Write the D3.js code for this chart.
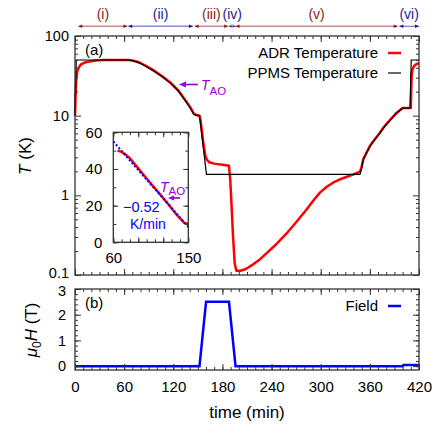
<!DOCTYPE html>
<html>
<head>
<meta charset="utf-8">
<script src="https://cdn.jsdelivr.net/npm/d3@7/dist/d3.min.js"></script>
<style>
  body { margin: 0; background: #fff; }
  svg { font-family: "Liberation Sans", Arial, sans-serif; }
</style>
</head>
<body>
<div id="chart"></div>
<script>
// ADR temperature (red): time in min, T in K
const adrTime = [0, 0.7, 1.5, 2.5, 4, 6, 8, 12, 18, 25, 35, 65, 70, 75, 80, 86, 96, 106, 116, 126, 136, 141, 145, 148, 152,
  153.5, 155, 157, 159, 161, 164, 170, 180, 188, 189.5, 191, 193, 195, 197, 202, 207, 212, 218, 226, 234, 246, 258,
  270, 283, 291, 299, 307, 315, 323, 332, 340, 348, 350, 352, 356, 360, 366, 372, 378, 385, 392, 400, 410, 411, 412,
  414, 417, 420]
const adrTemp = [10, 18, 28, 35, 39, 42.5, 44.5, 46.5, 48, 49.2, 49.8, 50, 49.3, 47.8, 45.8, 42.5, 37, 31.5, 26.3, 20.8, 15, 12.6, 10.6, 10.2, 10,
  8.5, 6.3, 4.3, 3.2, 2.8, 2.6, 2.5, 2.42, 2.35, 1.6, 0.8, 0.3, 0.14, 0.113, 0.113, 0.117, 0.125, 0.137, 0.158, 0.188, 0.245, 0.33,
  0.46, 0.67, 0.86, 1.08, 1.27, 1.44, 1.58, 1.71, 1.83, 1.98, 2.3, 2.85, 3.45, 4.15, 5.05, 6.05, 7.4, 8.9, 10.7, 12.5, 12.5, 32, 38,
  42, 44.5, 45.5]

// PPMS temperature (black)
const ppmsTime = [0, 1.5, 65, 70, 75, 80, 86, 96, 106, 116, 126, 136, 141, 145, 148, 152, 160.5, 348, 350, 352, 356, 360,
  366, 372, 378, 385, 392, 400, 409, 410.5, 420]
const ppmsTemp = [10, 50, 50, 49, 47.3, 45.2, 42, 36.4, 31, 25.8, 20.4, 14.7, 12.4, 10.4, 10.1, 10, 1.83, 1.83, 2.2, 2.8, 3.4, 4.1,
  5, 6, 7.3, 8.8, 10.6, 12.4, 12.4, 50, 50]

// magnetic field (blue), in T
const fieldTime = [0, 152, 160, 188, 196, 400, 401, 420]
const fieldValue = [0, 0, 2.5, 2.5, 0, 0, 0.04, 0.04]

// linear fit shown in the inset (blue dotted)
const fitTime = [60, 150]
const fitTemp = [55, 8.3]

// stages of the run
const phaseLabels = ["(i)", "(ii)", "(iii)", "(iv)", "(v)", "(vi)"]
const phaseStart = [4, 65, 146, 188, 196, 396]
const phaseEnd = [64, 144, 187, 196, 394, 420]

const yTicksT = [0.1, 1, 10, 100]
const xTicks = [0, 60, 120, 180, 240, 300, 360, 420]
const yTicksH = [0, 1, 2, 3]

const svg = d3.select("#chart").append("svg")
  .attr("width", 436)
  .attr("height", 436)

// scales
const x = d3.scaleLinear().domain([0, 420]).range([75, 419])
const yT = d3.scaleLog().domain([0.1, 100]).range([275, 36])
const yH = d3.scaleLinear().domain([-0.15, 3]).range([370, 289])
const xi = d3.scaleLinear().domain([60, 150]).range([113.3, 188.3])
const yi = d3.scaleLinear().domain([0, 60]).range([242.3, 132.3])

const red = "#ff0000", blue = "#0000ff", violet = "#9400d3"
const darkRed = "#8b1a1a", darkBlue = "#1a1a9b"
const intFmt = d3.format("d")

// minor ticks for the log axis
const logMinor = []
for (let e = -1; e < 2; e++) {
  for (let k = 2; k < 10; k++) logMinor.push(k * Math.pow(10, e))
}
const range = (a, b, s) => d3.range(a, b + s / 2, s)

// draws inward ticks on all four sides of a panel
function frameTicks(g, xs, ys, xMajor, xMinor, yMajor, yMinor, major, minor) {
  const [x0, x1] = xs.range()
  const [y0, y1] = ys.range()
  const add = (axis, tr) => {
    const a = g.append("g").attr("transform", tr).call(axis)
    a.select(".domain").remove()
    a.selectAll("line").attr("stroke", "#333").attr("stroke-width", 1)
    return a
  }
  add(d3.axisBottom(xs).tickValues(xMajor).tickSize(-major).tickFormat(""), `translate(0,${y0})`)
  add(d3.axisBottom(xs).tickValues(xMinor).tickSize(-minor).tickFormat(""), `translate(0,${y0})`)
  add(d3.axisTop(xs).tickValues(xMajor).tickSize(-major).tickFormat(""), `translate(0,${y1})`)
  add(d3.axisTop(xs).tickValues(xMinor).tickSize(-minor).tickFormat(""), `translate(0,${y1})`)
  add(d3.axisLeft(ys).tickValues(yMajor).tickSize(-major).tickFormat(""), `translate(${x0},0)`)
  add(d3.axisLeft(ys).tickValues(yMinor).tickSize(-minor).tickFormat(""), `translate(${x0},0)`)
  add(d3.axisRight(ys).tickValues(yMajor).tickSize(-major).tickFormat(""), `translate(${x1},0)`)
  add(d3.axisRight(ys).tickValues(yMinor).tickSize(-minor).tickFormat(""), `translate(${x1},0)`)
  g.append("rect")
    .attr("x", x0).attr("y", y1)
    .attr("width", x1 - x0).attr("height", y0 - y1)
    .attr("fill", "none").attr("stroke", "#333").attr("stroke-width", 1.3)
}

// tick labels only (no tick lines)
function labels(axis, tr, size) {
  const a = svg.append("g").attr("transform", tr).call(axis)
  a.select(".domain").remove()
  a.selectAll("line").remove()
  a.selectAll("text").attr("font-size", size).attr("fill", "#000")
    .style("font-family", '"Liberation Sans", Arial, sans-serif')
  return a
}

// ---------- panel (a): temperature ----------
const lineT = d3.line().x(d => x(d[0])).y(d => yT(d[1]))

svg.append("path")
  .datum(d3.zip(adrTime, adrTemp))
  .attr("d", lineT)
  .attr("fill", "none").attr("stroke", red).attr("stroke-width", 2.5)
  .attr("stroke-linejoin", "round")

svg.append("path")
  .datum(d3.zip(ppmsTime, ppmsTemp))
  .attr("d", lineT)
  .attr("fill", "none").attr("stroke", "#000").attr("stroke-width", 1.2)

frameTicks(svg.append("g"), x, yT, xTicks, range(0, 420, 10), yTicksT, logMinor, 6, 3)

const yLabA = labels(d3.axisLeft(yT).tickValues(yTicksT).tickSize(0).tickPadding(6)
  .tickFormat(d => d < 1 ? "0.1" : intFmt(d)), "translate(75,0)", 14.5)
// lift "0.1" a little so it clears the "3" of panel (b)
yLabA.selectAll(".tick").filter(d => d < 1).select("text").attr("y", -2)

svg.append("text")
  .attr("transform", "translate(31,156) rotate(-90)")
  .attr("text-anchor", "middle").attr("font-size", 17)
  .html('<tspan font-style="italic">T</tspan> (K)')

svg.append("text").attr("x", 85).attr("y", 55).attr("font-size", 15).text("(a)")

// legend
const legA = [["ADR Temperature", red, 2.5, 58], ["PPMS Temperature", "#000", 1.2, 78]]
legA.forEach(function(l) {
  svg.append("text").attr("x", 378).attr("y", l[3]).attr("text-anchor", "end")
    .attr("font-size", 15).text(l[0])
  svg.append("line").attr("x1", 388).attr("x2", 401).attr("y1", l[3] - 5).attr("y2", l[3] - 5)
    .attr("stroke", l[1]).attr("stroke-width", l[2])
})

// T_AO marker in the main panel
svg.append("line").attr("x1", 198).attr("x2", 183).attr("y1", 84.5).attr("y2", 84.5)
  .attr("stroke", violet).attr("stroke-width", 1.6)
svg.append("path").attr("d", "M179,84.5 L186,81.5 L186,87.5 Z").attr("fill", violet)
svg.append("text").attr("x", 201).attr("y", 90).attr("font-size", 14).attr("fill", violet)
  .html('<tspan font-style="italic">T</tspan><tspan font-size="11.5" dy="4.5">AO</tspan>')

// stage arrows along the top
phaseLabels.forEach(function(lab, i) {
  const c = i % 2 == 0 ? darkRed : darkBlue
  const a = x(phaseStart[i]), b = x(phaseEnd[i]), yy = 26.3
  svg.append("line").attr("x1", a).attr("x2", b).attr("y1", yy).attr("y2", yy)
    .attr("stroke", c).attr("stroke-opacity", 0.5).attr("stroke-width", 1.4)
  svg.append("path").attr("d", `M${a},${yy} l4,-1.8 l0,3.6 Z M${b},${yy} l-4,-1.8 l0,3.6 Z`).attr("fill", c)
  svg.append("text").attr("x", (a + b) / 2).attr("y", 19).attr("text-anchor", "middle")
    .attr("font-size", 14).attr("fill", c).text(lab)
})

// ---------- inset ----------
const inset = svg.append("g")
inset.append("rect").attr("x", 113.3).attr("y", 132.3).attr("width", 75).attr("height", 110).attr("fill", "#fff")
inset.append("clipPath").attr("id", "clipInset")
  .append("rect").attr("x", 113.3).attr("y", 132.3).attr("width", 75).attr("height", 110)

const lineI = d3.line().x(d => xi(d[0])).y(d => yi(d[1]))
inset.append("path")
  .datum(d3.zip(adrTime, adrTemp).filter(d => d[0] >= 55 && d[0] <= 155))
  .attr("d", lineI).attr("clip-path", "url(#clipInset)")
  .attr("fill", "none").attr("stroke", red).attr("stroke-width", 2.5)
inset.append("path")
  .datum(d3.zip(fitTime, fitTemp))
  .attr("d", lineI)
  .attr("fill", "none").attr("stroke", blue).attr("stroke-width", 2).attr("stroke-dasharray", "2,2")

frameTicks(inset, xi, yi, [60, 90, 120, 150], range(60, 150, 10), [0, 20, 40, 60], range(0, 60, 10), 5, 3)

labels(d3.axisLeft(yi).tickValues([0, 20, 40, 60]).tickSize(0).tickPadding(11).tickFormat(intFmt), "translate(113.3,0)", 15)
labels(d3.axisBottom(xi).tickValues([60, 150]).tickSize(0).tickPadding(10).tickFormat(intFmt), "translate(0,242.3)", 15)

inset.append("line").attr("x1", 180).attr("x2", 172).attr("y1", 198).attr("y2", 198)
  .attr("stroke", violet).attr("stroke-width", 1.6)
inset.append("path").attr("d", "M168,198 L174,195.5 L174,200.5 Z").attr("fill", violet)
inset.append("text").attr("x", 160).attr("y", 191.5).attr("font-size", 14).attr("fill", violet)
  .html('<tspan font-style="italic">T</tspan><tspan font-size="11.5" dy="3.5">AO</tspan>')
inset.append("text").attr("x", 123).attr("y", 212.3).attr("font-size", 14.5).attr("fill", blue).text("\u22120.52")
inset.append("text").attr("x", 130).attr("y", 229).attr("font-size", 14).attr("fill", blue).text("K/min")

// ---------- panel (b): field ----------
svg.append("path")
  .datum(d3.zip(fieldTime, fieldValue))
  .attr("d", d3.line().x(d => x(d[0])).y(d => yH(d[1])))
  .attr("fill", "none").attr("stroke", blue).attr("stroke-width", 2.5)

frameTicks(svg.append("g"), x, yH, xTicks, range(0, 420, 10), yTicksH, range(0, 3, 0.2), 6, 3)

const yLabB = labels(d3.axisLeft(yH).tickValues(yTicksH).tickSize(0).tickPadding(9).tickFormat(intFmt), "translate(75,0)", 14.5)
yLabB.selectAll(".tick").filter(d => d == 3).select("text").attr("y", 1.5)
labels(d3.axisBottom(x).tickValues(xTicks).tickSize(0).tickPadding(11).tickFormat(intFmt), "translate(0,370)", 15)

svg.append("text")
  .attr("transform", "translate(37,330) rotate(-90)")
  .attr("text-anchor", "middle").attr("font-size", 17)
  .html('<tspan font-style="italic">\u03bc</tspan><tspan font-size="12" dy="4">0</tspan><tspan font-style="italic" dy="-4">H</tspan> (T)')

svg.append("text").attr("x", 85).attr("y", 308).attr("font-size", 15).text("(b)")

svg.append("text").attr("x", 378).attr("y", 311).attr("text-anchor", "end").attr("font-size", 15).text("Field")
svg.append("line").attr("x1", 388).attr("x2", 401).attr("y1", 306).attr("y2", 306)
  .attr("stroke", blue).attr("stroke-width", 2.5)

svg.append("text").attr("x", 247).attr("y", 418).attr("text-anchor", "middle").attr("font-size", 17)
  .text("time (min)")
</script>
</body>
</html>
